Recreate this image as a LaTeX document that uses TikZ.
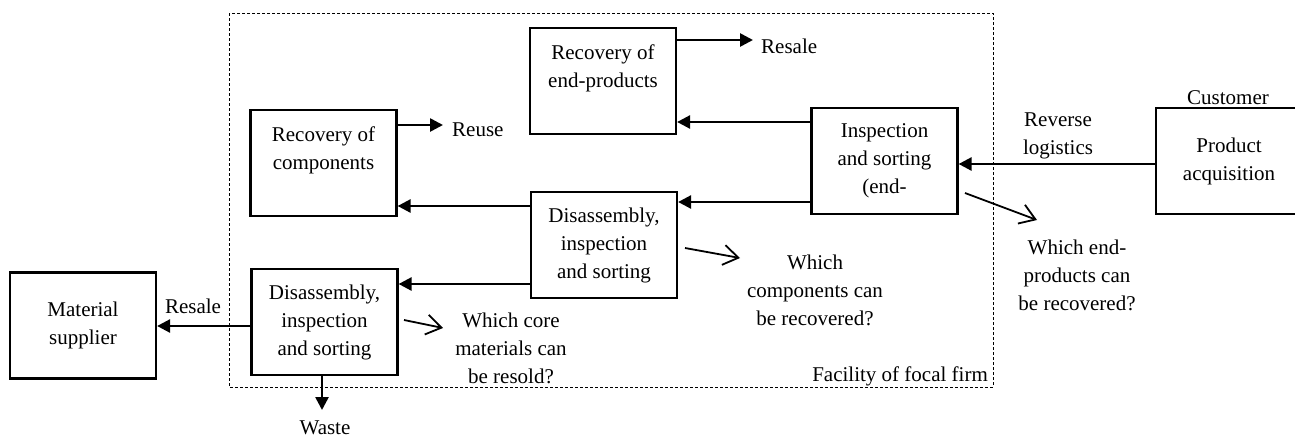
\documentclass[tikz,border=0pt]{standalone}
\usepackage{fontspec}
\setmainfont{Liberation Serif}
\usetikzlibrary{arrows.meta}
\begin{document}
\begin{tikzpicture}[x=1pt,y=-1pt,
  every node/.style={font=\fontsize{21}{28}\selectfont, align=center, inner sep=0pt},
  procbox/.style={draw, line width=2.2pt, minimum width=146pt, minimum height=106pt},
  arr/.style={line width=2.6pt, -{Triangle[length=13pt,width=13pt]}},
  openarr/.style={line width=1.8pt, -{Straight Barb[length=15pt,width=20pt,line width=1.8pt]}},
  frame/.style={line width=0.9pt, dash pattern=on 3pt off 2pt}]
\useasboundingbox (0,0) rectangle (1295,437);
% facility frame
\draw[frame] (229,13) rectangle (993,387);
\node[anchor=south east] (fac) at (988,386) {Facility of focal firm};
% boxes
\node[procbox] (rep) at (603,81) {Recovery of\\end-products\\[2pt]};
\node[procbox] (rcomp) at (323.5,163) {Recovery of\\components\\[2pt]};
\node[procbox] (insp) at (884.5,161) {Inspection\\and sorting\\(end-};
\node[procbox] (dis1) at (604,245) {Disassembly,\\inspection\\and sorting};
\node[procbox] (dis2) at (324.5,322) {Disassembly,\\inspection\\and sorting};
\node[procbox] (mat) at (83,325.5) {Material\\supplier};
\node[procbox] (prod) at (1229,161) {Product\\acquisition};
% labels
\node (cust) at (1228,98) {Customer};
\node (revlog) at (1058,136) {Reverse\\logistics};
\node[anchor=west] (resale1) at (761,46) {Resale};
\node[anchor=west] (reuse) at (452,130) {Reuse};
\node (resale2) at (193,306) {Resale};
\node[anchor=base] (waste) at (325,434) {Waste};
\node (q1) at (1077,275) {Which end-\\products can\\be recovered?};
\node (q2) at (815,290) {Which\\components can\\be recovered?};
\node (q3) at (511,348) {Which core\\materials can\\be resold?};
% connectors
\coordinate (resaleTip) at (753,40);
\coordinate (reuseTip) at (443,125);
\coordinate (wasteTip) at (322,410);
\draw[arr] (rep.east |- resaleTip) -- (resaleTip);
\draw[arr] (rcomp.east |- reuseTip) -- (reuseTip);
\draw[arr] (insp.west |- 0,122) -- (rep.east |- 0,122);
\draw[arr] (insp.west |- 0,202) -- (dis1.east |- 0,202);
\draw[arr] (dis1.west |- 0,206) -- (rcomp.east |- 0,206);
\draw[arr] (dis1.west |- 0,284) -- (dis2.east |- 0,284);
\draw[arr] (dis2.west |- 0,326) -- (mat.east |- 0,326);
\draw[arr] (dis2.south -| wasteTip) -- (wasteTip);
\draw[arr] (prod.west |- 0,164) -- (insp.east |- 0,164);
% question arrows
\coordinate (o1s) at (965,193); \coordinate (o1e) at (1037,220);
\coordinate (o2s) at (685,248); \coordinate (o2e) at (740,258);
\coordinate (o3s) at (404,320); \coordinate (o3e) at (443,328);
\draw[openarr] (o1s) -- (o1e);
\draw[openarr] (o2s) -- (o2e);
\draw[openarr] (o3s) -- (o3e);
\end{tikzpicture}
\end{document}
